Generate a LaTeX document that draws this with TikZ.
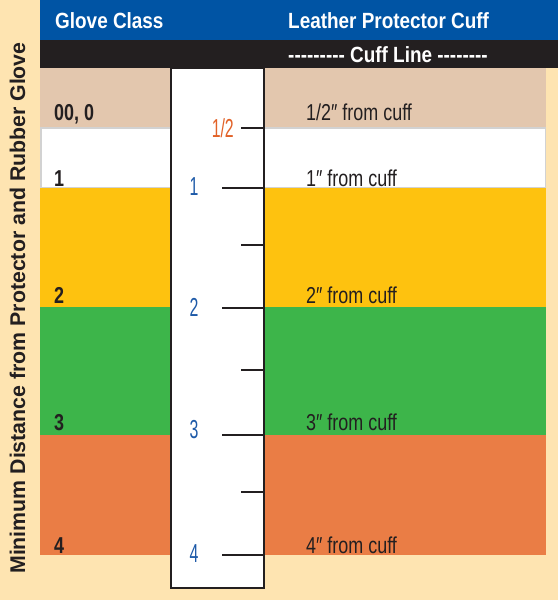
\documentclass[tikz,border=0pt]{standalone}
\usepackage{fontspec}
\setmainfont{Liberation Sans}[FakeStretch=0.78]
\newfontfamily\headfont{Liberation Sans}[FakeStretch=0.86]
\newfontfamily\sidefont{Liberation Sans}
\newfontfamily\rulerfont{Liberation Sans}[FakeStretch=0.61]
\usetikzlibrary{positioning}
\definecolor{GCCream}{RGB}{254, 228, 177}
\definecolor{GCBlue}{RGB}{0, 84, 164}
\definecolor{GCBlack}{RGB}{35, 31, 32}
\definecolor{GCTan}{RGB}{227, 199, 174}
\definecolor{GCYellow}{RGB}{254, 194, 15}
\definecolor{GCGreen}{RGB}{61, 181, 74}
\definecolor{GCOrange}{RGB}{234, 125, 69}
\definecolor{GCRulerBlue}{RGB}{30, 90, 168}
\definecolor{GCRulerOrange}{RGB}{226, 98, 40}

\begin{document}
\begin{tikzpicture}[x=1pt,y=-1pt,
  headlabel/.style={anchor=base west, inner sep=0pt, text=white, font=\fontsize{22}{24}\headfont\bfseries},
  classlabel/.style={anchor=base west, inner sep=0pt, text=GCBlack, font=\fontsize{23}{25}\selectfont\bfseries},
  cufflabel/.style={anchor=base west, inner sep=0pt, text=GCBlack, font=\fontsize{23}{25}\selectfont},
  rulernum/.style={anchor=base, inner sep=0pt, text=GCRulerBlue, font=\fontsize{26}{28}\rulerfont},
  rulertick/.style={GCBlack, line width=2pt}]
  \fill[GCCream] (0,0) rectangle (558,600);
  \path[use as bounding box] (0,0) rectangle (558,600);

  % Header rows
  \fill[GCBlue] (40,0) rectangle (558,40);
  \fill[GCBlack] (40,40) rectangle (558,68);
  \node[headlabel] (classhead) at (55,28) {Glove Class};
  \node[headlabel] (cuffhead) at (288,28) {Leather Protector Cuff};
  \node[headlabel] (cuffline) at (288,62) {-{}-{}-{}-{}-{}-{}-{}-{}- Cuff Line -{}-{}-{}-{}-{}-{}-{}-};

  % Class bands
  \fill[GCTan] (40,68) rectangle (546,128);
  \filldraw[fill=white, draw=gray!35, line width=1.5pt] (40.75,128) rectangle (545.25,187.25);
  \fill[GCYellow] (40,188) rectangle (546,307);
  \fill[GCGreen] (40,307) rectangle (546,435);
  \fill[GCOrange] (40,435) rectangle (546,555);

  % Glove class
  \node[classlabel] (class0) at (54,120) {00, 0};
  \node[classlabel] (class1) at (54,186) {1};
  \node[classlabel] (class2) at (54,303) {2};
  \node[classlabel] (class3) at (54,430) {3};
  \node[classlabel] (class4) at (54,553) {4};

  % Protector cuff distance
  \node[cufflabel] (cuff0) at (306,120) {1/2″ from cuff};
  \node[cufflabel] (cuff1) at (306,186) {1″ from cuff};
  \node[cufflabel] (cuff2) at (306,303) {2″ from cuff};
  \node[cufflabel] (cuff3) at (306,430) {3″ from cuff};
  \node[cufflabel] (cuff4) at (306,553) {4″ from cuff};

  % Ruler
  \draw[GCBlack, fill=white, line width=2.5pt] (171,68) rectangle (264,588);
  \foreach \y in {128, 245, 370, 492}
    \draw[rulertick] (241,\y) -- (264,\y);
  \foreach \y in {188, 308, 435, 555}
    \draw[rulertick] (222,\y) -- (264,\y);
  \node[rulernum, anchor=base east, text=GCRulerOrange] (rulerhalf) at (234,137) {1/2};
  \node[rulernum] (ruler1) at (194,195) {1};
  \node[rulernum] (ruler2) at (194,316) {2};
  \node[rulernum] (ruler3) at (194,438) {3};
  \node[rulernum] (ruler4) at (194,562) {4};

  % Side caption
  \node[anchor=base, rotate=90, inner sep=0pt, text=GCBlack, font=\fontsize{21.3}{23}\sidefont\bfseries] (sidecap) at (25,308) {Minimum Distance from Protector and Rubber Glove};
\end{tikzpicture}
\end{document}
